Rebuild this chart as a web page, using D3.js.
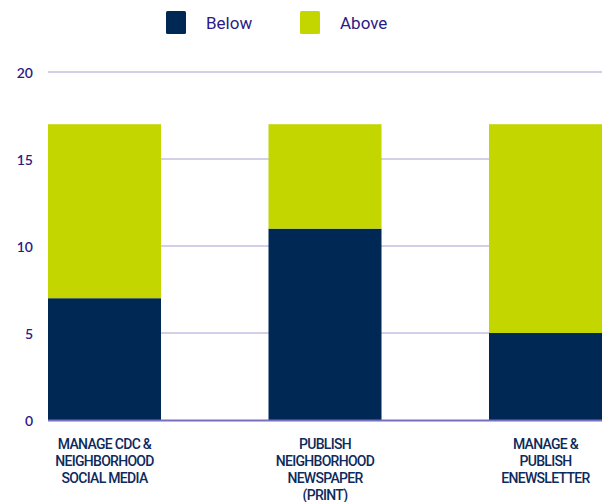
<!DOCTYPE html>
<html>
<head>
<meta charset="utf-8">
<script src="https://cdn.jsdelivr.net/npm/d3@7"></script>
<style>
  html, body { margin: 0; padding: 0; background: #fff; }
  svg { display: block; }
</style>
</head>
<body>
<svg id="chart" width="606" height="502"></svg>
<script>
const categories = [
  ["MANAGE CDC &", "NEIGHBORHOOD", "SOCIAL MEDIA"],
  ["PUBLISH", "NEIGHBORHOOD", "NEWSPAPER", "(PRINT)"],
  ["MANAGE &", "PUBLISH", "ENEWSLETTER"]
];
const seriesNames = ["Below", "Above"];
const belowValues = [7, 11, 5];
const aboveValues = [10, 6, 12];
const yTicks = [0, 5, 10, 15, 20];
const colors = ["#002855", "#c4d600"];

const svg = d3.select("#chart");
const plot = { left: 48, right: 602, top: 72, bottom: 420 };

const rows = categories.map((c, i) => ({ key: i, Below: belowValues[i], Above: aboveValues[i] }));
const stacked = d3.stack().keys(seriesNames)(rows);

const x = d3.scaleBand()
  .domain(rows.map(d => d.key))
  .range([plot.left, plot.right])
  .paddingInner(0.4875)
  .paddingOuter(0);

const y = d3.scaleLinear().domain([0, 20]).range([plot.bottom, plot.top]);

// gridlines
svg.append("g")
  .selectAll("line")
  .data(yTicks.filter(t => t > 0))
  .join("line")
  .attr("x1", plot.left).attr("x2", plot.right)
  .attr("y1", d => y(d)).attr("y2", d => y(d))
  .attr("stroke", "#d3cfe9").attr("stroke-width", 2);

// y axis labels
const yAxis = d3.axisLeft(y).tickValues(yTicks).tickSize(0).tickPadding(0);
svg.append("g")
  .attr("transform", "translate(33,0)")
  .call(yAxis)
  .call(g => g.select(".domain").remove())
  .call(g => g.selectAll("text")
    .attr("fill", "#2b1a85")
    .attr("font-family", "Lato, 'Noto Sans', sans-serif")
    .attr("font-size", 14)
    .attr("font-weight", 600)
    .attr("text-anchor", "end")
    .attr("dy", "0.36em"));

// stacked bars
svg.append("g")
  .selectAll("g")
  .data(stacked)
  .join("g")
  .attr("fill", (d, i) => colors[i])
  .selectAll("rect")
  .data(d => d)
  .join("rect")
  .attr("x", d => x(d.data.key))
  .attr("width", x.bandwidth())
  .attr("y", d => y(d[1]))
  .attr("height", d => y(d[0]) - y(d[1]));

// baseline
svg.append("line")
  .attr("x1", plot.left).attr("x2", plot.right)
  .attr("y1", y(0) + 0.5).attr("y2", y(0) + 0.5)
  .attr("stroke", "#7a6fbe").attr("stroke-width", 2);

// category labels
const xl = svg.append("g")
  .selectAll("text")
  .data(categories)
  .join("text")
  .attr("x", (d, i) => x(i) + x.bandwidth() / 2)
  .attr("y", 449)
  .attr("text-anchor", "middle")
  .attr("fill", "#0d2a5c")
  .attr("font-family", "Roboto, 'Noto Sans', sans-serif")
  .attr("font-size", 14)
  .attr("font-weight", 500)
  .attr("letter-spacing", "-0.7px");
xl.selectAll("tspan")
  .data(d => d)
  .join("tspan")
  .attr("x", function() { return this.parentNode.getAttribute("x"); })
  .attr("dy", (d, i) => i === 0 ? 0 : 17)
  .text(d => d);

// legend
const legend = svg.append("g");
const legendX = [166, 300];
seriesNames.forEach((name, i) => {
  legend.append("rect")
    .attr("x", legendX[i]).attr("y", 11)
    .attr("width", 20).attr("height", 23)
    .attr("rx", 1.5)
    .attr("fill", colors[i]);
  legend.append("text")
    .attr("x", legendX[i] + 40).attr("y", 29)
    .attr("fill", "#2b1a85")
    .attr("font-family", "Roboto, 'Noto Sans', sans-serif")
    .attr("font-size", 17)
    .attr("font-weight", 400)
    .text(name);
});
</script>
</body>
</html>
